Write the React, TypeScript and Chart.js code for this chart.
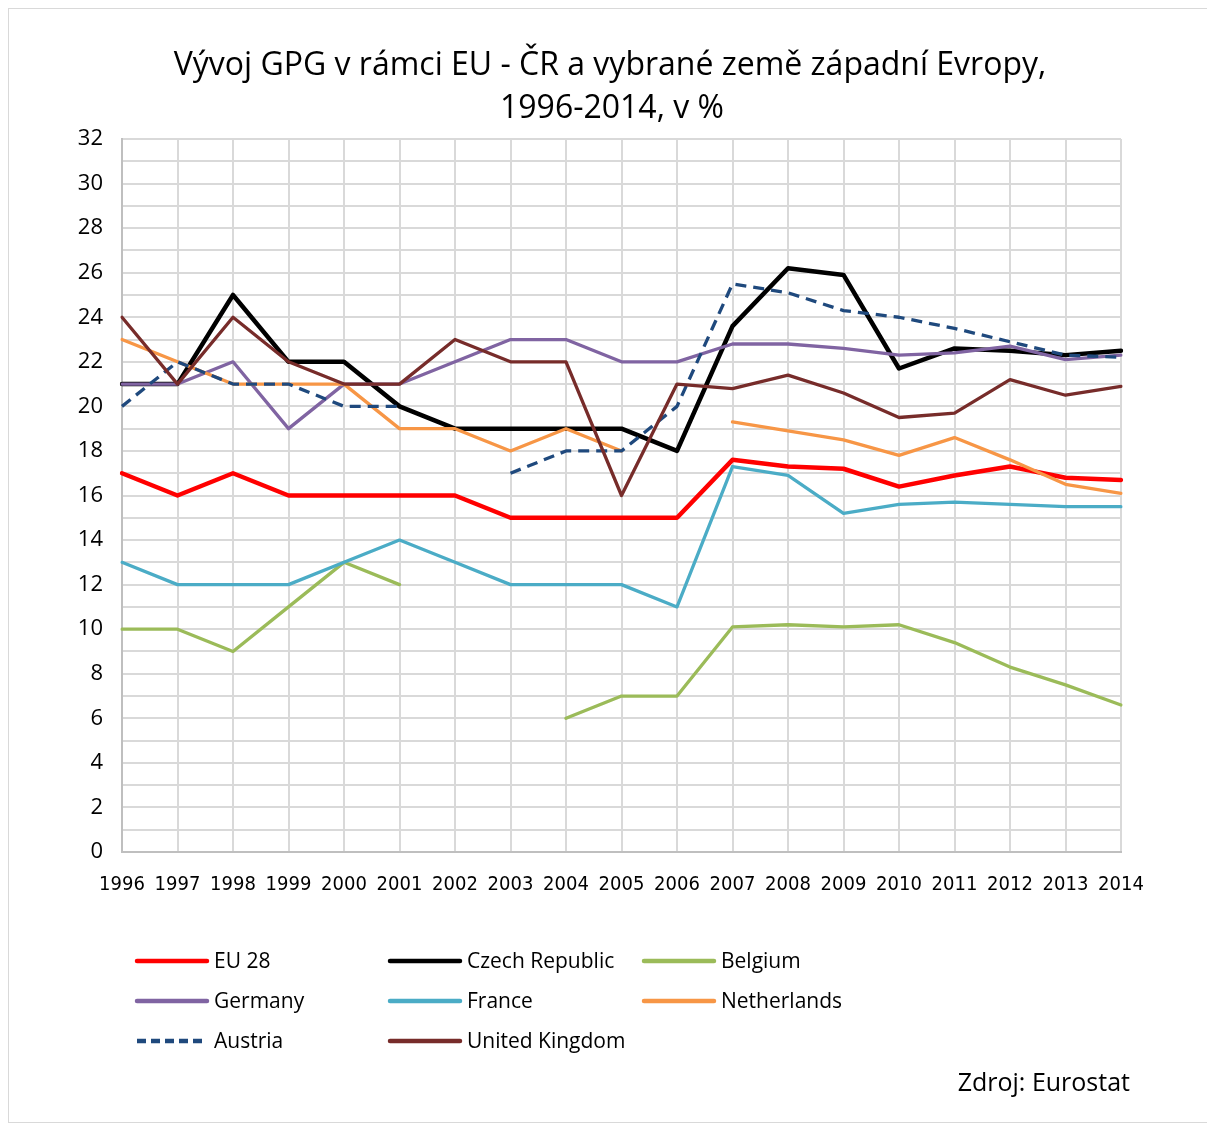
import React, { useEffect, useRef } from "react";
import { Chart, registerables } from "chart.js";

Chart.register(...registerables);

const years = ["1996","1997","1998","1999","2000","2001","2002","2003","2004","2005","2006","2007","2008","2009","2010","2011","2012","2013","2014"];

const eu28 = [17, 16, 17, 16, 16, 16, 16, 15, 15, 15, 15, 17.6, 17.3, 17.2, 16.4, 16.9, 17.3, 16.8, 16.7];
const czech = [21, 21, 25, 22, 22, 20, 19, 19, 19, 19, 18, 23.6, 26.2, 25.9, 21.7, 22.6, 22.5, 22.3, 22.5];
const belgium = [10, 10, 9, 11, 13, 12, null, null, 6, 7, 7, 10.1, 10.2, 10.1, 10.2, 9.4, 8.3, 7.5, 6.6];
const germany = [21, 21, 22, 19, 21, 21, 22, 23, 23, 22, 22, 22.8, 22.8, 22.6, 22.3, 22.4, 22.7, 22.1, 22.3];
const france = [13, 12, 12, 12, 13, 14, 13, 12, 12, 12, 11, 17.3, 16.9, 15.2, 15.6, 15.7, 15.6, 15.5, 15.5];
const netherlands = [23, 22, 21, 21, 21, 19, 19, 18, 19, 18, null, 19.3, 18.9, 18.5, 17.8, 18.6, 17.6, 16.5, 16.1];
const austria = [20, 22, 21, 21, 20, 20, null, 17, 18, 18, 20, 25.5, 25.1, 24.3, 24.0, 23.5, 22.9, 22.3, 22.2];
const uk = [24, 21, 24, 22, 21, 21, 23, 22, 22, 16, 21, 20.8, 21.4, 20.6, 19.5, 19.7, 21.2, 20.5, 20.9];

const seriesNames = ["EU 28", "Czech Republic", "Belgium", "Germany", "France", "Netherlands", "Austria", "United Kingdom"];
const seriesValues = [eu28, czech, belgium, germany, france, netherlands, austria, uk];
const seriesColors = ["#ff0000", "#000000", "#9bbb59", "#8064a2", "#4bacc6", "#f79646", "#1f497d", "#772c2a"];
const seriesWidths = [4.5, 4.5, 3.3, 3.3, 3.3, 3.3, 3.3, 3.3];
const seriesDashed = [false, false, false, false, false, false, true, false];

const titleLines = ["Vývoj GPG v rámci EU - ČR a vybrané země západní Evropy,", "1996-2014, v %"];
const sourceNote = "Zdroj: Eurostat";

const W = 1203;
const H = 1113;

const decorPlugin = {
  id: "decor",
  afterDraw(chart: any) {
    const ctx = chart.ctx;
    ctx.save();
    // title
    ctx.fillStyle = "#000";
    ctx.font = '32px "Open Sans"';
    ctx.textAlign = "center";
    ctx.textBaseline = "middle";
    ctx.fillText(titleLines[0], 601, 57);
    ctx.fillText(titleLines[1], 603, 100);
    // legend
    const colX = [128, 381, 635];
    const rowY = [952, 992, 1032];
    chart.data.datasets.forEach((ds: any, i: number) => {
      const col = i % 3;
      const row = Math.floor(i / 3);
      const x = colX[col];
      const y = rowY[row];
      const dashed = ds.borderDash && ds.borderDash.length;
      ctx.beginPath();
      ctx.strokeStyle = ds.borderColor;
      ctx.lineWidth = 4.5;
      ctx.lineCap = dashed ? "butt" : "round";
      ctx.setLineDash(dashed ? [9, 5] : []);
      ctx.moveTo(x, y);
      ctx.lineTo(x + 70, y);
      ctx.stroke();
      ctx.setLineDash([]);
      ctx.fillStyle = "#000";
      ctx.font = '21px "Open Sans"';
      ctx.textBaseline = "middle";
      ctx.textAlign = "left";
      ctx.fillText(ds.label, x + 77, y + 1);
    });
    ctx.font = '25px "Open Sans"';
    ctx.textAlign = "right";
    ctx.textBaseline = "alphabetic";
    ctx.fillText(sourceNote, 1121, 1082);
    ctx.restore();
  },
};

export default function App() {
  const ref = useRef<HTMLCanvasElement | null>(null);
  useEffect(() => {
    if (!ref.current) return;
    const n = seriesNames.length;
    const chart = new Chart(ref.current, {
      type: "line",
      data: {
        labels: years,
        datasets: seriesNames.map((name, i) => ({
          label: name,
          data: seriesValues[i],
          borderColor: seriesColors[i],
          backgroundColor: seriesColors[i],
          borderWidth: seriesWidths[i],
          borderDash: seriesDashed[i] ? [11, 7] : [],
          borderCapStyle: seriesDashed[i] ? "butt" : "round",
          borderJoinStyle: "round",
          pointRadius: 0,
          pointHoverRadius: 0,
          tension: 0,
          spanGaps: false,
          fill: false,
          order: n - i,
        })),
      },
      options: {
        responsive: false,
        animation: false,
        devicePixelRatio: 1,
        layout: { padding: { left: 0, right: 91, top: 130, bottom: 210 } },
        plugins: {
          legend: { display: false },
          tooltip: { enabled: false },
          title: { display: false },
        },
        scales: {
          x: {
            type: "category",
            offset: false,
            grid: { color: "#d9d9d9", lineWidth: 2, drawTicks: false, offset: false },
            border: { color: "#bfbfbf", width: 2 },
            ticks: {
              color: "#000",
              autoSkip: false,
              maxRotation: 0,
              minRotation: 0,
              padding: 21,
              font: { family: '"Liberation Sans Narrow", "DejaVu Sans Condensed", sans-serif', size: 20 },
            },
            afterFit: (scale: any) => { scale.height = 60; },
          },
          y: {
            min: 0,
            max: 32,
            grid: { color: "#d9d9d9", lineWidth: 2, drawTicks: false },
            border: { color: "#bfbfbf", width: 2 },
            ticks: {
              stepSize: 1,
              autoSkip: false,
              color: "#000",
              padding: 19,
              font: { family: '"Open Sans"', size: 22 },
              callback: (v: any) => (Number(v) % 2 === 0 ? String(v) : ""),
            },
            afterFit: (scale: any) => { scale.width = 113; },
          },
        },
      },
      plugins: [decorPlugin],
    });
    return () => chart.destroy();
  }, []);
  return (
    <div
      style={{
        width: 1205,
        height: 1115,
        border: "1px solid #d9d9d9",
        boxSizing: "border-box",
        background: "#fff",
        overflow: "hidden",
      }}
    >
      <canvas ref={ref} width={W} height={H} style={{ display: "block", width: W, height: H }} />
    </div>
  );
}
